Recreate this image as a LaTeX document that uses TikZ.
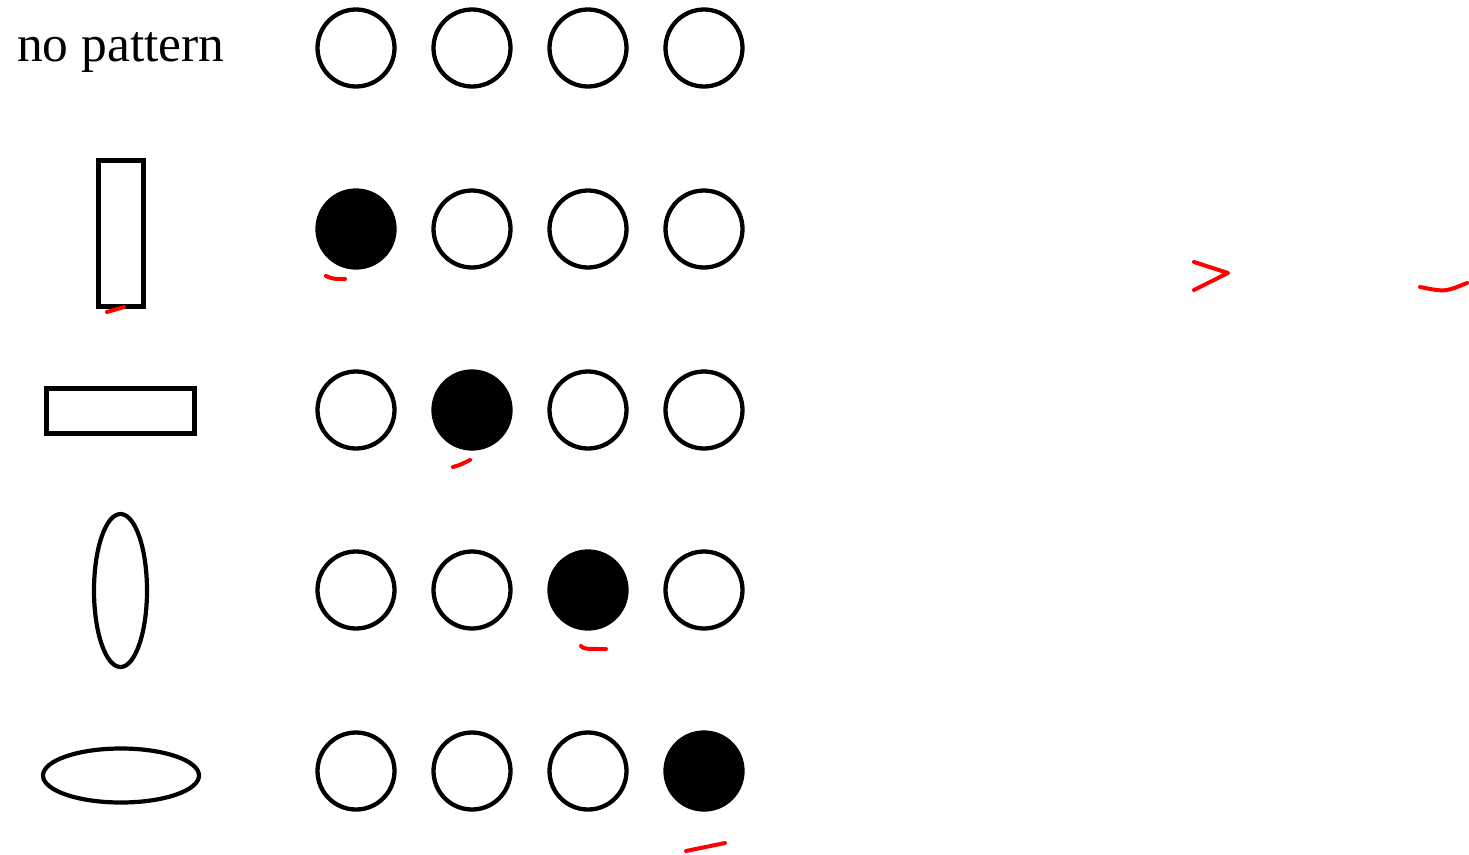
\documentclass[tikz,border=0pt]{standalone}
\usepackage{fontspec}
\setmainfont{Liberation Serif}
\usetikzlibrary{shapes.geometric}
\begin{document}
\begin{tikzpicture}[x=1pt,y=-1pt,
  dot/.style={circle,draw=black,line width=4.3pt,minimum size=77pt,inner sep=0pt,outer sep=0pt},
  on/.style={dot,fill=black},
  box/.style={rectangle,draw=black,line width=5pt,inner sep=0pt,outer sep=0pt},
  oval/.style={ellipse,draw=black,line width=4.2pt,inner sep=0pt,outer sep=0pt},
  redtick/.style={draw=red,line width=4pt,line cap=round,line join=round}]
\useasboundingbox[fill=white] (0,0) rectangle (1469,854);
% row labels
\node[anchor=base west,inner sep=0pt,font=\fontsize{51.5}{60}\selectfont] (lbl) at (17,61) {no pattern};
\node[box,minimum width=45pt,minimum height=146pt] (vrect) at (120.5,233) {};
\node[box,minimum width=148pt,minimum height=45pt] (hrect) at (120,410.5) {};
\node[oval,minimum width=53pt,minimum height=153pt] (vell) at (120.5,590.5) {};
\node[oval,minimum width=156pt,minimum height=54pt] (hell) at (121,775.5) {};
% circles
\foreach \r/\y in {1/48,2/229,3/410,4/590,5/771}{
  \foreach \c/\x in {1/356,2/472,3/588,4/704}{
    \pgfmathtruncatemacro{\lit}{\r-1==\c ? 1 : 0}
    \ifnum\lit=1
      \node[on] (c\r\c) at (\x,\y) {};
    \else
      \node[dot] (c\r\c) at (\x,\y) {};
    \fi
  }
}
% red marks
\draw[redtick] (107,312) -- (124,307);
\draw[redtick] (326,276) .. controls (333,279) .. (345,279);
\draw[redtick] (453,467) .. controls (460,465) .. (470,460);
\draw[redtick] (581,646) .. controls (584,649) .. (606,649);
\draw[redtick] (686,851) .. controls (705,847) .. (725,843);
\draw[redtick] (1194,262) -- (1228,273) -- (1194,290);
\draw[redtick] (1420,287) .. controls (1445,292) .. (1467,283);
\end{tikzpicture}
\end{document}
